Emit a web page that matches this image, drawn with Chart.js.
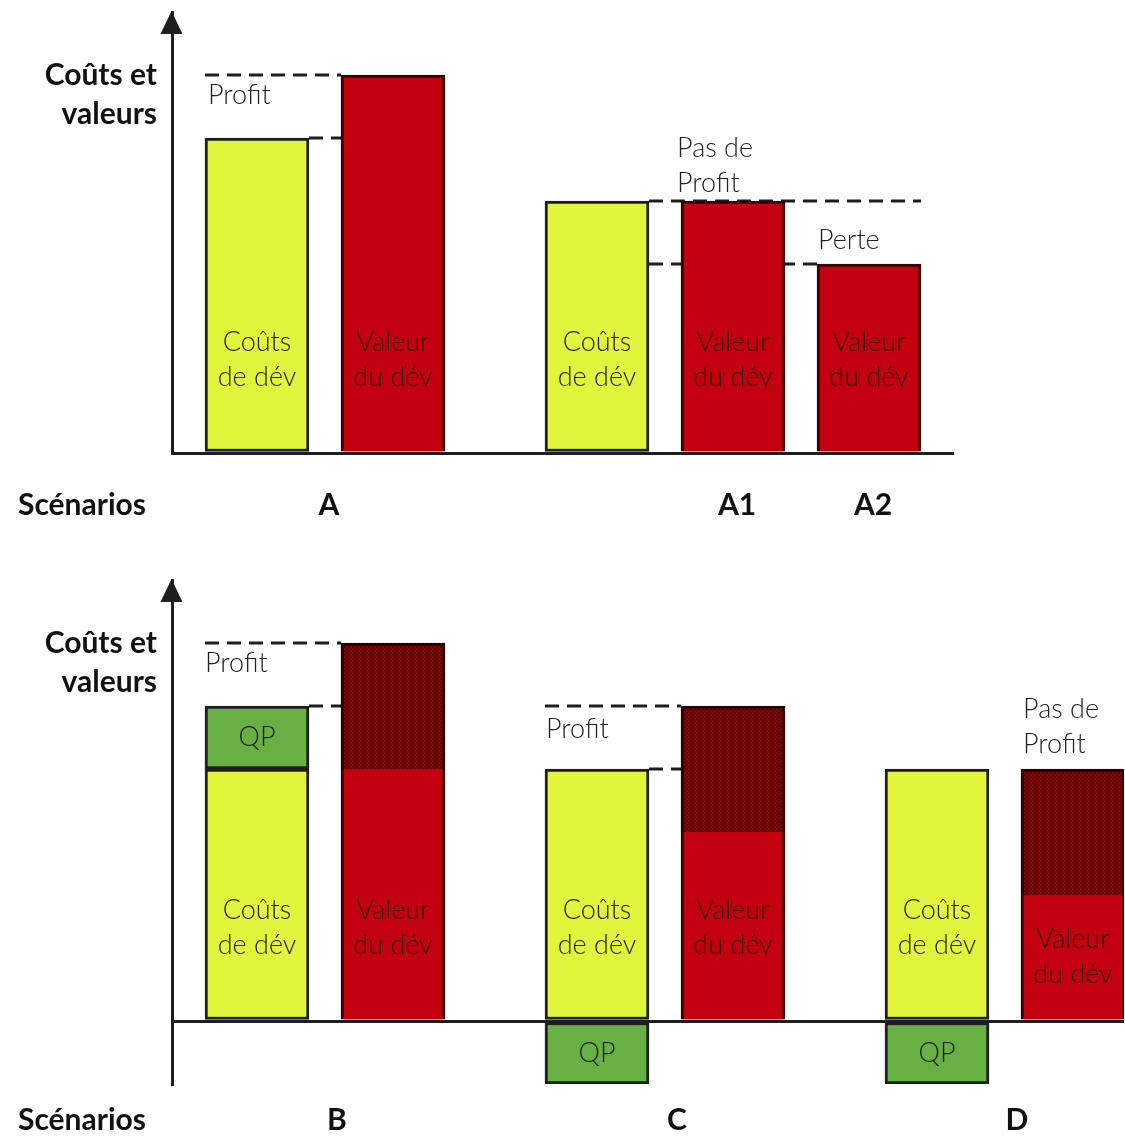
<!DOCTYPE html>
<html><head><meta charset="utf-8">
<script src="https://cdn.jsdelivr.net/npm/chart.js@4/dist/chart.umd.min.js"></script>
<style>
html,body{margin:0;padding:0;background:#fff;}
#wrap{position:relative;width:1125px;height:1136px;overflow:hidden;background:#fff;}
canvas{position:absolute;left:0;}
#c1{top:0;} #c2{top:568px;}
</style></head><body>
<div id="wrap"><canvas id="c1" width="1125" height="568"></canvas><canvas id="c2" width="1125" height="568"></canvas></div>
<script>
// ---------------- data ----------------
const axisTitle = ['Coûts et', 'valeurs'];
const axisName = 'Scénarios';
const topScenarios = ['A', 'A1', 'A2'];
const topCosts = [5, 4];            // Coûts de dév : A, A1/A2
const topValues = [6, 4, 3];        // Valeur du dév : A, A1, A2
const bottomScenarios = ['B', 'C', 'D'];
const bottomCosts = [4, 4, 4];      // Coûts de dév
const bottomQP = [1, -1, -1];       // QP
const bottomValues = [4, 3, 2];     // Valeur du dév (base)
const bottomValueExtra = [2, 2, 2]; // Valeur du dév (part hachurée)
const costText = ['Coûts', 'de dév'];
const valueText = ['Valeur', 'du dév'];
const qpText = ['QP'];
const profitText = ['Profit'];
const noProfitText = ['Pas de', 'Profit'];
const lossText = ['Perte'];

// ---------------- layout ----------------
const topLayout = { slots: 23, costSlots: [2, 12], valueSlots: [6, 16, 20], scenarioSlots: [4, 16, 20] };
const bottomLayout = { slots: 28, costSlots: [2, 12, 22], valueSlots: [6, 16, 26], scenarioSlots: [4, 14, 24] };
const BAR_W = 104;
const YELLOW = '#e2f43c', RED = '#c3000f', GREEN = '#68b043', INK = '#1e1e1e', RED_EDGE = '#3a0000';

function spread(n, slots, values) {
  const a = new Array(n).fill(null);
  slots.forEach((s, i) => { if (values[i] !== undefined) a[s] = values[i]; });
  return a;
}
function slotLabels(n) { return Array.from({ length: n }, (_, i) => 's' + i); }

function hatch() {
  const c = document.createElement('canvas'); c.width = 4; c.height = 4;
  const g = c.getContext('2d');
  g.fillStyle = '#650000'; g.fillRect(0, 0, 4, 4);
  g.fillStyle = '#7a0a0a'; g.fillRect(0, 0, 2, 2); g.fillRect(2, 2, 2, 2);
  return g.createPattern(c, 'repeat');
}

const LIGHT = '300 27px Lato, "Open Sans", sans-serif';
const BOLD = 'bold 30px Lato, "Open Sans", sans-serif';

const diagramPlugin = {
  id: 'diagram',
  beforeDatasetsDraw(chart, args, o) {
    const ctx = chart.ctx, xs = chart.scales.x, ys = chart.scales.y, half = BAR_W / 2;
    ctx.save();
    ctx.strokeStyle = INK; ctx.lineWidth = 3; ctx.setLineDash([14, 8]);
    o.guides.forEach(g => {
      const y = ys.getPixelForValue(g.v);
      const x1 = xs.getPixelForValue(g.a) + g.ae * half;
      const x2 = xs.getPixelForValue(g.b) + g.be * half;
      ctx.beginPath(); ctx.moveTo(x1, y); ctx.lineTo(x2, y); ctx.stroke();
    });
    ctx.restore();
  },
  afterDatasetsDraw(chart, args, o) {
    const ctx = chart.ctx, ys = chart.scales.y;
    const unit = ys.getPixelForValue(0) - ys.getPixelForValue(1);
    ctx.save();
    ctx.font = LIGHT; ctx.textAlign = 'center'; ctx.textBaseline = 'middle';
    chart.data.datasets.forEach((ds, i) => {
      if (!ds.barText) return;
      const meta = chart.getDatasetMeta(i);
      meta.data.forEach((el, j) => {
        if (ds.data[j] == null) return;
        const p = el.getProps(['x', 'y', 'base'], true);
        const h = Math.abs(p.base - p.y);
        const cy = ds.textMode === 'center' ? (p.y + p.base) / 2 : p.base - Math.min(1.45 * unit, h / 2);
        ctx.fillStyle = ds.textColor;
        const lines = ds.barText, lh = 35;
        lines.forEach((t, k) => ctx.fillText(t, p.x, cy + (k - (lines.length - 1) / 2) * lh));
      });
    });
    ctx.restore();
  },
  afterDraw(chart, args, o) {
    const ctx = chart.ctx, xs = chart.scales.x, ys = chart.scales.y, ca = chart.chartArea;
    const half = BAR_W / 2;
    ctx.save();
    // arrow head on the value axis
    const ax = ca.left - 0.5;
    ctx.fillStyle = INK;
    ctx.beginPath(); ctx.moveTo(ax, ca.top - 1); ctx.lineTo(ax - 11, ca.top + 22); ctx.lineTo(ax + 11, ca.top + 22); ctx.closePath(); ctx.fill();
    // axis title
    ctx.font = BOLD; ctx.textBaseline = 'middle'; ctx.textAlign = 'right'; ctx.fillStyle = '#111';
    const ty = ys.getPixelForValue(6);
    axisTitle.forEach((t, k) => ctx.fillText(t, ca.left - 15, ty + k * 39));
    // scenarios
    const sy = ca.bottom + o.scenarioDy;
    ctx.textAlign = 'left';
    ctx.fillText(axisName, 18, sy);
    ctx.textAlign = 'center';
    o.scenarios.forEach((s, k) => ctx.fillText(s, xs.getPixelForValue(o.scenarioSlots[k]) + o.labelShift, sy));
    // annotations
    ctx.font = LIGHT; ctx.textAlign = 'left'; ctx.fillStyle = '#222';
    o.notes.forEach(n => {
      const x = xs.getPixelForValue(n.slot) - half + n.dx;
      const y = ys.getPixelForValue(n.v);
      n.lines.forEach((t, k) => ctx.fillText(t, x, y + k * 35));
    });
    ctx.restore();
  }
};

function baseOptions(yMin, yMax, pad, diag) {
  return {
    responsive: false, animation: false, devicePixelRatio: 1,
    layout: { padding: pad },
    datasets: { bar: { barThickness: BAR_W, categoryPercentage: 1, barPercentage: 1 } },
    plugins: { legend: { display: false }, tooltip: { enabled: false }, diagram: diag },
    scales: {
      x: { display: false, stacked: true },
      y: {
        stacked: true, min: yMin, max: yMax,
        ticks: { display: false, stepSize: 1 },
        grid: { drawTicks: false, lineWidth: 3, color: c => (c.tick && c.tick.value === 0) ? INK : 'rgba(0,0,0,0)' },
        border: { display: true, color: INK, width: 3 }
      }
    }
  };
}

const pattern = hatch();

// ---------------- top chart ----------------
new Chart(document.getElementById('c1'), {
  type: 'bar',
  data: {
    labels: slotLabels(topLayout.slots),
    datasets: [
      { label: 'Coûts de dév', data: spread(topLayout.slots, topLayout.costSlots, topCosts),
        backgroundColor: YELLOW, borderColor: INK, borderWidth: 3, borderSkipped: false,
        barText: costText, textColor: '#222', textMode: 'lift' },
      { label: 'Valeur du dév', data: spread(topLayout.slots, topLayout.valueSlots, topValues),
        backgroundColor: RED, borderColor: RED_EDGE, borderWidth: { top: 3, left: 3, right: 3, bottom: 0 }, borderSkipped: false,
        barText: valueText, textColor: '#350000', textMode: 'lift' }
    ]
  },
  options: baseOptions(0, 7, { left: 172, right: 171, top: 12, bottom: 115 }, {
    scenarioDy: 52, labelShift: 4,
    scenarios: topScenarios, scenarioSlots: topLayout.scenarioSlots,
    guides: [
      { v: 6, a: 2, ae: -1, b: 6, be: -1 },
      { v: 5, a: 2, ae: 1, b: 6, be: -1 },
      { v: 4, a: 12, ae: 1, b: 20, be: 1 },
      { v: 3, a: 12, ae: 1, b: 20, be: -1 }
    ],
    notes: [
      { lines: profitText, slot: 2, dx: 3, v: 5.67 },
      { lines: noProfitText, slot: 16, dx: -4, v: 4.84 },
      { lines: lossText, slot: 20, dx: 1, v: 3.38 }
    ]
  }),
  plugins: [diagramPlugin]
});

// ---------------- bottom chart ----------------
new Chart(document.getElementById('c2'), {
  type: 'bar',
  data: {
    labels: slotLabels(bottomLayout.slots),
    datasets: [
      { label: 'Coûts de dév', data: spread(bottomLayout.slots, bottomLayout.costSlots, bottomCosts),
        backgroundColor: YELLOW, borderColor: INK, borderWidth: 3, borderSkipped: false,
        barText: costText, textColor: '#222', textMode: 'lift' },
      { label: 'QP', data: spread(bottomLayout.slots, bottomLayout.costSlots, bottomQP),
        backgroundColor: GREEN, borderColor: INK, borderWidth: 3, borderSkipped: false,
        barText: qpText, textColor: '#1a1a1a', textMode: 'center' },
      { label: 'Valeur du dév', data: spread(bottomLayout.slots, bottomLayout.valueSlots, bottomValues),
        backgroundColor: RED, borderColor: RED_EDGE, borderWidth: { top: 0, left: 3, right: 3, bottom: 0 }, borderSkipped: false,
        barText: valueText, textColor: '#350000', textMode: 'lift' },
      { label: 'Valeur ajoutée', data: spread(bottomLayout.slots, bottomLayout.valueSlots, bottomValueExtra),
        backgroundColor: pattern, borderColor: '#2a0000', borderWidth: { top: 3, left: 3, right: 3, bottom: 0 }, borderSkipped: false }
    ]
  },
  options: baseOptions(-1, 7, { left: 172, right: 1, top: 12, bottom: 52 }, {
    scenarioDy: 36, labelShift: 12,
    scenarios: bottomScenarios, scenarioSlots: bottomLayout.scenarioSlots,
    guides: [
      { v: 6, a: 2, ae: -1, b: 6, be: -1 },
      { v: 5, a: 2, ae: 1, b: 6, be: -1 },
      { v: 5, a: 12, ae: -1, b: 16, be: -1 },
      { v: 4, a: 12, ae: 1, b: 16, be: -1 }
    ],
    notes: [
      { lines: profitText, slot: 2, dx: 0, v: 5.68 },
      { lines: profitText, slot: 12, dx: 1, v: 4.63 },
      { lines: noProfitText, slot: 26, dx: 2, v: 4.95 }
    ]
  }),
  plugins: [diagramPlugin]
});
</script>
</body></html>
